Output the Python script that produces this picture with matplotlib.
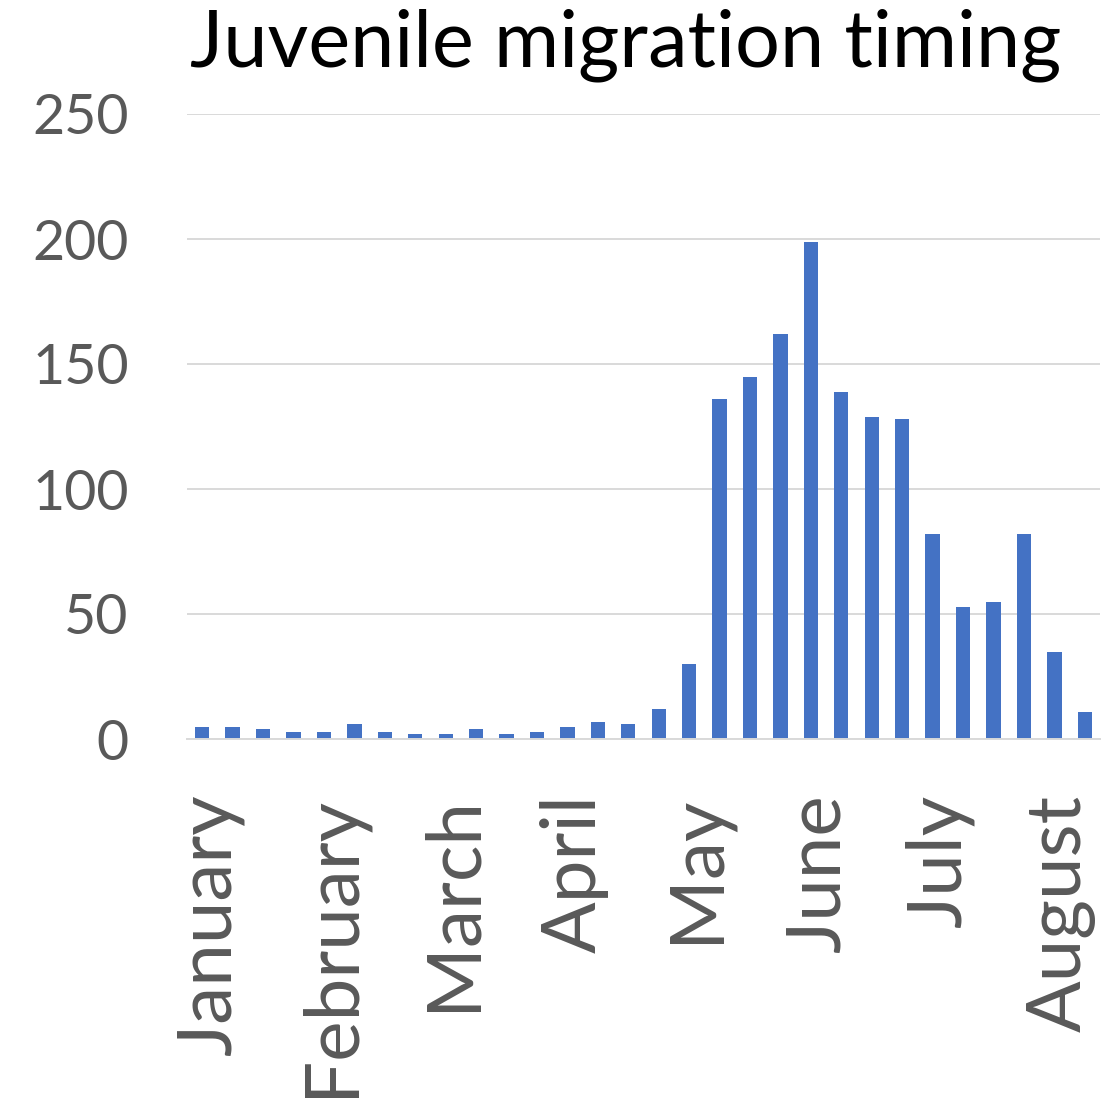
import matplotlib
matplotlib.use("Agg")
import matplotlib.pyplot as plt
import matplotlib.transforms as mtransforms
import numpy as np

# Weekly counts of juvenile migrants, January through August
weeks = list(range(30))
counts = [5, 5, 4, 3, 3, 6, 3, 2, 2, 4,
          2, 3, 5, 7, 6, 12, 30, 136, 145, 162,
          199, 139, 129, 128, 82, 53, 55, 82, 35, 11]
month_labels = ["January", "February", "March", "April",
                "May", "June", "July", "August"]
label_step = 4
y_ticks = [0, 50, 100, 150, 200, 250]

plt.rcParams["font.family"] = ["Lato", "DejaVu Sans"]

fig = plt.figure(figsize=(11.02, 11.09), dpi=100)
ax = fig.add_axes([187 / 1102, 1 - 739 / 1109, 913 / 1102, (739 - 114) / 1109])

ax.bar(weeks, counts, width=0.47, color="#4472C4", zorder=3)

ax.set_xlim(-0.5, len(weeks) - 0.5)
ax.set_ylim(0, 250)
ax.set_yticks(y_ticks)
ax.set_yticklabels([str(v) for v in y_ticks])

tick_pos = weeks[::label_step]
ax.set_xticks(tick_pos)
ax.set_xticklabels(month_labels, rotation=90, ha="center", va="top")

ax.tick_params(axis="y", length=0, pad=42, labelsize=40, labelcolor="#595959")
ax.tick_params(axis="x", length=0, pad=40, labelsize=55, labelcolor="#595959")

# nudge the month names slightly to the right of their tick
shift = mtransforms.ScaledTranslation(7 / 100, 0, fig.dpi_scale_trans)
for lbl in ax.get_xticklabels():
    lbl.set_transform(lbl.get_transform() + shift)

ax.grid(axis="y", color="#D9D9D9", linewidth=1.4, zorder=0)
for side in ["top", "right", "left"]:
    ax.spines[side].set_visible(False)
ax.spines["bottom"].set_color("#D9D9D9")
ax.spines["bottom"].set_linewidth(1.4)
ax.spines["bottom"].set_zorder(4)

fig.text(626 / 1102, 1 - 45 / 1109, "Juvenile migration timing",
         ha="center", va="center", fontsize=57, color="black")

fig.savefig("out.png", dpi=100)
